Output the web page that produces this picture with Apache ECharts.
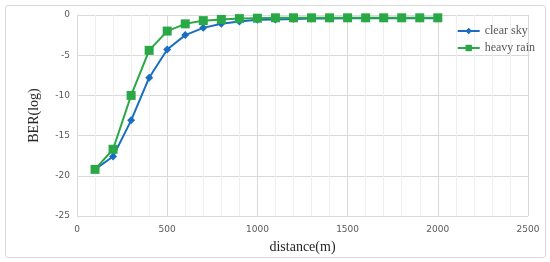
<!DOCTYPE html>
<html><head><meta charset="utf-8">
<script src="https://cdn.jsdelivr.net/npm/echarts@6/dist/echarts.min.js"></script>
<style>html,body{margin:0;padding:0;background:#fff}#c{width:550px;height:262px}
#frame{position:absolute;left:5px;top:5px;width:539px;height:251px;border:1px solid #d9d9d9;border-radius:3px;pointer-events:none}</style>
</head><body><div id="c"></div><div id="frame"></div>
<script>
var distances = [100,200,300,400,500,600,700,800,900,1000,1100,1200,1300,1400,1500,1600,1700,1800,1900,2000];
var clearSky = [-19.2,-17.6,-13.1,-7.8,-4.3,-2.5,-1.6,-1.1,-0.8,-0.6,-0.55,-0.5,-0.45,-0.45,-0.4,-0.4,-0.4,-0.4,-0.4,-0.4];
var heavyRain = [-19.2,-16.7,-10.0,-4.4,-2.0,-1.1,-0.7,-0.55,-0.45,-0.4,-0.35,-0.35,-0.35,-0.35,-0.35,-0.35,-0.35,-0.35,-0.35,-0.35];
function pairs(xs, ys){ return xs.map(function(x,i){return [x, ys[i]];}); }
var chart = echarts.init(document.getElementById('c'));
chart.setOption({
  animation:false,
  grid:{left:77,right:22,top:15,bottom:46},
  legend:{
    right:10, top:20, orient:'vertical', itemGap:5, itemWidth:22, itemHeight:8,
    textStyle:{fontFamily:'Liberation Serif', fontSize:12, color:'#595959'},
    data:[{name:'clear sky'},{name:'heavy rain'}]
  },
  xAxis:{
    type:'value', min:0, max:2500, interval:500,
    name:'distance(m)', nameLocation:'middle', nameGap:24,
    nameTextStyle:{fontFamily:'Liberation Serif', fontSize:14, color:'#262626'},
    axisLine:{show:false}, axisTick:{show:false},
    axisLabel:{fontFamily:'DejaVu Sans', fontSize:9, color:'#595959', margin:9,
      formatter:function(v){return String(v);}},
    splitLine:{show:true, lineStyle:{color:'#d9d9d9', width:1}},
    minorTick:{show:false, splitNumber:5},
    minorSplitLine:{show:true, lineStyle:{color:'#efefef', width:1}}
  },
  yAxis:{
    type:'value', min:-25, max:0, interval:5,
    name:'BER(log)', nameLocation:'middle', nameGap:36,
    nameTextStyle:{fontFamily:'Liberation Serif', fontSize:14, color:'#262626'},
    axisLine:{show:false}, axisTick:{show:false},
    axisLabel:{fontFamily:'DejaVu Sans', fontSize:9, color:'#595959', margin:7},
    splitLine:{show:true, lineStyle:{color:'#d9d9d9', width:1}}
  },
  series:[
    {name:'clear sky', type:'line', data:pairs(distances, clearSky), symbol:'diamond', symbolSize:8,
     lineStyle:{color:'#1a6ec2', width:2}, itemStyle:{color:'#1a6ec2'}, z:2},
    {name:'heavy rain', type:'line', data:pairs(distances, heavyRain), symbol:'rect', symbolSize:9,
     lineStyle:{color:'#2aa846', width:2}, itemStyle:{color:'#2aa846'}, z:3}
  ]
});
</script></body></html>
